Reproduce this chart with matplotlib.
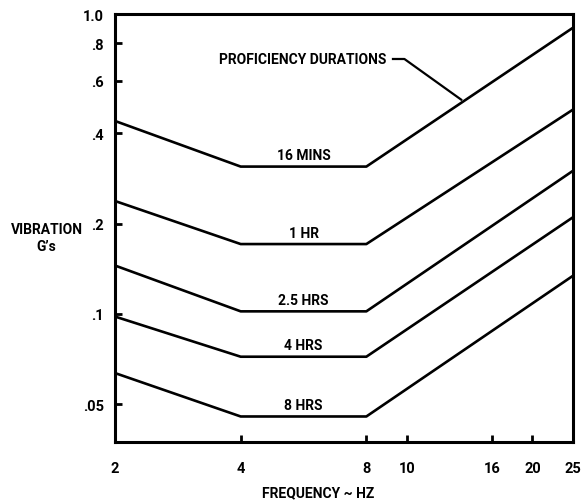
import numpy as np
import matplotlib
matplotlib.use('Agg')
import matplotlib.pyplot as plt

plt.rcParams['font.family'] = ['Roboto', 'DejaVu Sans']
plt.rcParams['font.weight'] = 'bold'
plt.rcParams['axes.labelweight'] = 'bold'

# breakpoints of each curve (Hz)
freq = [2, 4, 8, 25]
durations = ['16 MINS', '1 HR', '2.5 HRS', '4 HRS', '8 HRS']
g_16min = [0.44, 0.31, 0.31, 0.90]
g_1hr = [0.238, 0.171, 0.171, 0.48]
g_25hr = [0.145, 0.102, 0.102, 0.30]
g_4hr = [0.098, 0.072, 0.072, 0.21]
g_8hr = [0.0635, 0.0455, 0.0455, 0.134]
curves = [g_16min, g_1hr, g_25hr, g_4hr, g_8hr]

xticks = [2, 4, 8, 10, 16, 20, 25]
yticks = [0.05, 0.1, 0.2, 0.4, 0.6, 0.8, 1.0]
ylabels = ['.05', '.1', '.2', '.4', '.6', '.8', '1.0']

fig = plt.figure(figsize=(5.84, 5.02), dpi=100)
ax = fig.add_axes([0.197, 0.1175, 0.784, 0.8525])
ax.set_xscale('log')
ax.set_yscale('log')
ax.set_xlim(2, 25)
ax.set_ylim(0.0374, 1.0)

for name, g in zip(durations, curves):
    ax.plot(freq, g, color='black', lw=1.9, solid_capstyle='butt')
    xm = np.sqrt(freq[1] * freq[2])
    ax.text(xm, g[1] * 1.035, name, ha='center', va='bottom', fontsize=10)

ax.minorticks_off()
ax.set_xticks(xticks)
ax.set_xticklabels([str(t) for t in xticks])
ax.set_yticks(yticks)
ax.set_yticklabels(ylabels)
ax.tick_params(direction='in', length=5, width=2, labelsize=10.5, pad=14)
ax.tick_params(axis='y', pad=8)
for s in ax.spines.values():
    s.set_linewidth(2.2)

# annotation
ax.text(0.228, 0.895, 'PROFICIENCY DURATIONS', transform=ax.transAxes,
        fontsize=10, ha='left', va='center')
ax.plot([0.607, 0.632, 0.756], [0.895, 0.895, 0.80], transform=ax.transAxes,
        color='black', lw=1.6)

fig.text(0.08, 0.525, "VIBRATION\nG\u2019s", ha='center', va='center',
         fontsize=10, linespacing=1.2)
ax.set_xlabel('FREQUENCY ~ HZ', fontsize=10, labelpad=6)
ax.xaxis.set_label_coords(0.443, -0.1)

fig.savefig('out.png', dpi=100)
